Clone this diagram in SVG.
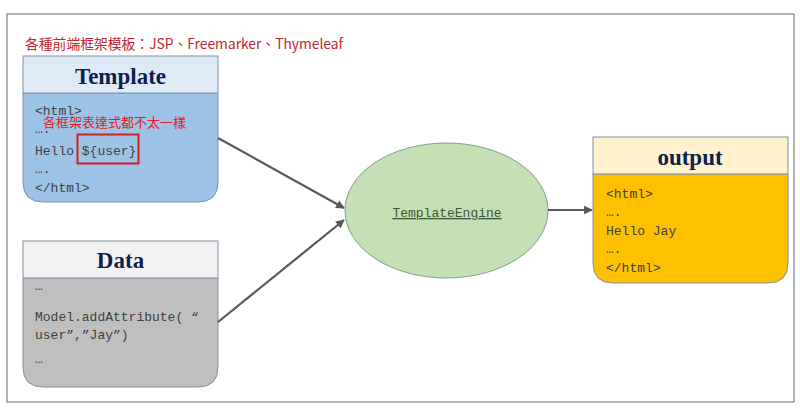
<svg xmlns="http://www.w3.org/2000/svg" width="800" height="412" viewBox="0 0 800 412">
<defs>
<style>
.title{font-family:"Liberation Serif","DejaVu Serif",serif;font-weight:bold;font-size:23px;fill:#0D1F4F;text-anchor:middle}
.code{font-family:"Liberation Mono","Noto Sans CJK TC",monospace;font-size:13px;fill:#404040}
.red{font-family:"Noto Sans CJK TC","Noto Sans",sans-serif;font-size:13px;fill:#E02020}
.edge{stroke:#595959;stroke-width:2.2;fill:none}
.box{stroke:#7F8FA6;stroke-width:1}
</style>
<marker id="arr" viewBox="0 0 10 10" refX="9" refY="5" markerWidth="4" markerHeight="4" orient="auto">
<path d="M0,0 L10,5 L0,10 z" fill="#595959"/>
</marker>
</defs>
<rect x="0" y="0" width="800" height="412" fill="#FFFFFF"/>
<rect x="7" y="14" width="787" height="388" fill="none" stroke="#808080" stroke-width="1.2"/>
<text x="25" y="49" class="red" style="fill:#C0262D;font-size:13.8px">各種前端框架模板：JSP、Freemarker、Thymeleaf</text>

<g id="template">
<path d="M23,93 H218 V182 Q218,202 198,202 H43 Q23,202 23,182 Z" fill="#9DC3E6" class="box"/>
<rect x="23" y="56" width="195" height="37" fill="#DEEBF7" class="box"/>
<text x="120.5" y="84" class="title">Template</text>
<text x="35" y="115" class="code">&lt;html&gt;</text>
<text x="35" y="133" class="code">….</text>
<text x="35" y="155" class="code">Hello ${user}</text>
<text x="35" y="173" class="code">….</text>
<text x="35" y="192" class="code">&lt;/html&gt;</text>
<text x="43" y="127" class="red">各框架表達式都不太一樣</text>
<rect x="77.5" y="134.5" width="61" height="29" fill="none" stroke="#D02020" stroke-width="2"/>
</g>

<g id="data">
<path d="M23,278 H218 V367 Q218,387 198,387 H43 Q23,387 23,367 Z" fill="#BFBFBF" class="box"/>
<rect x="23" y="241" width="195" height="37" fill="#F2F2F2" class="box"/>
<text x="120.5" y="268" class="title">Data</text>
<text x="35" y="290" class="code">…</text>
<text x="35" y="321" class="code">Model.addAttribute( “</text>
<text x="35" y="339" class="code">user”,”Jay”)</text>
<text x="35" y="363" class="code">…</text>
</g>

<g id="engine">
<ellipse cx="446.5" cy="210.5" rx="101.5" ry="67.5" fill="#C5E0B4" stroke="#7F9F8A" stroke-width="1"/>
<text x="447" y="217" class="code" text-anchor="middle" style="fill:#3A5A3A" text-decoration="underline">TemplateEngine</text>
</g>

<g id="output">
<path d="M593,174 H788 V263 Q788,283 768,283 H613 Q593,283 593,263 Z" fill="#FFC000" class="box"/>
<rect x="593" y="137" width="195" height="37" fill="#FFF2CC" class="box"/>
<text x="690" y="165" class="title">output</text>
<text x="606" y="198" class="code">&lt;html&gt;</text>
<text x="606" y="216" class="code">….</text>
<text x="606" y="235" class="code">Hello Jay</text>
<text x="606" y="253" class="code">….</text>
<text x="606" y="272" class="code">&lt;/html&gt;</text>
</g>

<g id="connectors">
<line x1="218" y1="138" x2="344" y2="208" class="edge" marker-end="url(#arr)"/>
<line x1="218" y1="322" x2="344" y2="220" class="edge" marker-end="url(#arr)"/>
<line x1="548" y1="210" x2="592" y2="210" class="edge" marker-end="url(#arr)"/>
</g>
</svg>
